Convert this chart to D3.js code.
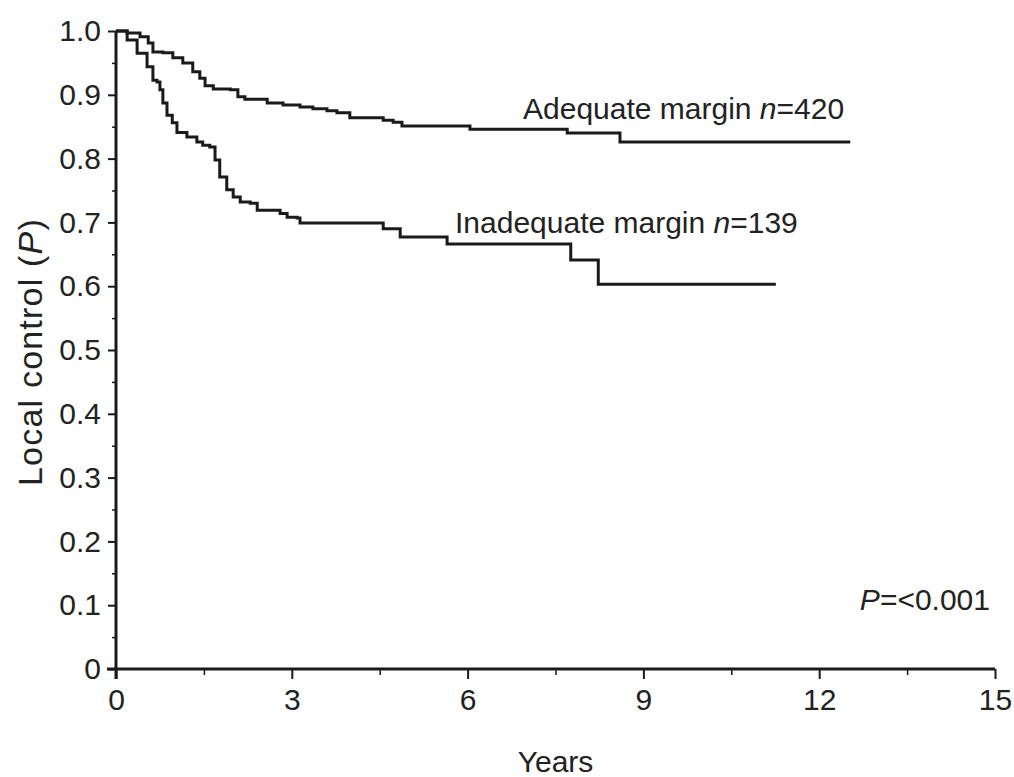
<!DOCTYPE html>
<html>
<head>
<meta charset="utf-8">
<script src="https://cdn.jsdelivr.net/npm/d3@7"></script>
<style>
  html, body { margin: 0; padding: 0; background: #fff; }
  svg { display: block; font-family: "Liberation Sans", Arial, Helvetica, sans-serif; }
</style>
</head>
<body>
<svg id="chart" width="1014" height="777"></svg>
<script>
// ---- Data ----
const adequateTimes  = [0, 0.19, 0.41, 0.55, 0.63, 0.80, 0.97, 1.14, 1.31, 1.43, 1.52, 1.66, 1.95, 2.08, 2.20, 2.58, 2.85, 3.14, 3.36, 3.60, 3.77, 3.99, 4.56, 4.73, 4.88, 6.04, 7.70, 8.60, 12.53];
const adequateValues = [1.0, 0.997, 0.991, 0.981, 0.967, 0.966, 0.958, 0.950, 0.936, 0.926, 0.914, 0.909, 0.908, 0.897, 0.893, 0.887, 0.884, 0.881, 0.878, 0.875, 0.872, 0.864, 0.860, 0.857, 0.851, 0.846, 0.840, 0.826, 0.826];

const inadequateTimes  = [0, 0.19, 0.36, 0.53, 0.63, 0.70, 0.75, 0.80, 0.87, 0.96, 1.04, 1.21, 1.38, 1.48, 1.60, 1.69, 1.77, 1.89, 2.00, 2.12, 2.29, 2.41, 2.80, 2.92, 3.09, 3.14, 4.56, 4.85, 5.65, 7.76, 8.23, 11.26];
const inadequateValues = [1.0, 0.986, 0.965, 0.944, 0.923, 0.920, 0.908, 0.887, 0.868, 0.856, 0.841, 0.834, 0.826, 0.821, 0.818, 0.798, 0.771, 0.751, 0.740, 0.732, 0.730, 0.719, 0.714, 0.708, 0.707, 0.699, 0.690, 0.677, 0.666, 0.641, 0.603, 0.603];

const seriesNames = ["Adequate margin", "Inadequate margin"];
const seriesN = [420, 139];

const xTicks = [0, 3, 6, 9, 12, 15];
const xMinorTicks = [1.5, 4.5, 7.5, 10.5, 13.5];
const yTicks = [0, 0.1, 0.2, 0.3, 0.4, 0.5, 0.6, 0.7, 0.8, 0.9, 1.0];
const yTickLabels = ["0", "0.1", "0.2", "0.3", "0.4", "0.5", "0.6", "0.7", "0.8", "0.9", "1.0"];
const yMinorTicks = [0.05, 0.15, 0.25, 0.35, 0.45, 0.55, 0.65, 0.75, 0.85, 0.95];

const xLabel = "Years";
const yLabel = "Local control (";
const pValueText = "=<0.001";

// ---- Layout ----
const svg = d3.select("#chart");
const ink = "#1a1a1a";
const fontSize = 30;

const x = d3.scaleLinear().domain([0, 15]).range([116, 995]);
const y = d3.scaleLinear().domain([0, 1]).range([669, 31]);

// Y axis
const yAxis = d3.axisLeft(y)
  .tickValues(yTicks)
  .tickFormat((d, i) => yTickLabels[i])
  .tickSize(8).tickPadding(7).tickSizeOuter(0);
const gy = svg.append("g").attr("transform", `translate(${x(0)},0)`).call(yAxis);
gy.select(".domain").remove();
gy.selectAll(".tick line").attr("stroke", ink).attr("stroke-width", 2);
gy.selectAll(".tick text").attr("fill", "#222").style("font-size", fontSize + "px")
  .style("font-family", "'Liberation Sans', Arial, sans-serif");

const gyMinor = svg.append("g").attr("transform", `translate(${x(0)},0)`)
  .call(d3.axisLeft(y).tickValues(yMinorTicks).tickFormat("").tickSize(4).tickSizeOuter(0));
gyMinor.select(".domain").remove();
gyMinor.selectAll(".tick line").attr("stroke", ink).attr("stroke-width", 1.5);

// X axis
const xAxis = d3.axisBottom(x)
  .tickValues(xTicks)
  .tickFormat(d3.format("d"))
  .tickSize(10).tickPadding(10).tickSizeOuter(0);
const gx = svg.append("g").attr("transform", `translate(0,${y(0)})`).call(xAxis);
gx.select(".domain").remove();
gx.selectAll(".tick line").attr("stroke", ink).attr("stroke-width", 2);
gx.selectAll(".tick text").attr("fill", "#222").style("font-size", fontSize + "px")
  .style("font-family", "'Liberation Sans', Arial, sans-serif");

const gxMinor = svg.append("g").attr("transform", `translate(0,${y(0)})`)
  .call(d3.axisBottom(x).tickValues(xMinorTicks).tickFormat("").tickSize(6).tickSizeOuter(0));
gxMinor.select(".domain").remove();
gxMinor.selectAll(".tick line").attr("stroke", ink).attr("stroke-width", 1.5);

// Axis lines
svg.append("line")
  .attr("x1", x(0)).attr("x2", x(0))
  .attr("y1", y(1)).attr("y2", y(0) + 10)
  .attr("stroke", ink).attr("stroke-width", 3);
svg.append("line")
  .attr("x1", x(0) - 9).attr("x2", x(15))
  .attr("y1", y(0)).attr("y2", y(0))
  .attr("stroke", ink).attr("stroke-width", 3);

// Curves
const line = d3.line()
  .x(d => x(d[0])).y(d => y(d[1]))
  .curve(d3.curveStepAfter);

const adequateData = adequateTimes.map((t, i) => [t, adequateValues[i]]);
const inadequateData = inadequateTimes.map((t, i) => [t, inadequateValues[i]]);

[adequateData, inadequateData].forEach(data => {
  svg.append("path")
    .datum(data)
    .attr("d", line)
    .attr("fill", "none")
    .attr("stroke", ink)
    .attr("stroke-width", 3)
    .attr("stroke-linejoin", "miter");
});

// Curve labels
function curveLabel(px, py, name, n) {
  const t = svg.append("text")
    .attr("x", px).attr("y", py)
    .attr("fill", "#222")
    .style("font-size", fontSize + "px");
  t.append("tspan").text(name + " ");
  t.append("tspan").style("font-style", "italic").text("n");
  t.append("tspan").text("=" + n);
}
curveLabel(523, 119, seriesNames[0], seriesN[0]);
curveLabel(455, 233, seriesNames[1], seriesN[1]);

// P value
const pv = svg.append("text")
  .attr("x", 990).attr("y", 610)
  .attr("text-anchor", "end")
  .attr("fill", "#222")
  .style("font-size", fontSize + "px");
pv.append("tspan").style("font-style", "italic").text("P");
pv.append("tspan").text(pValueText);

// Axis titles
svg.append("text")
  .attr("x", (x(0) + x(15)) / 2).attr("y", 772)
  .attr("text-anchor", "middle")
  .attr("fill", "#222")
  .style("font-size", fontSize + "px")
  .text(xLabel);

const yl = svg.append("text")
  .attr("transform", `translate(42,${(y(0) + y(1)) / 2 + 2}) rotate(-90)`)
  .attr("text-anchor", "middle")
  .attr("fill", "#222")
  .style("font-size", "34px")
  .style("letter-spacing", "1.2px");
yl.append("tspan").text(yLabel);
yl.append("tspan").style("font-style", "italic").text("P");
yl.append("tspan").text(")");
</script>
</body>
</html>
